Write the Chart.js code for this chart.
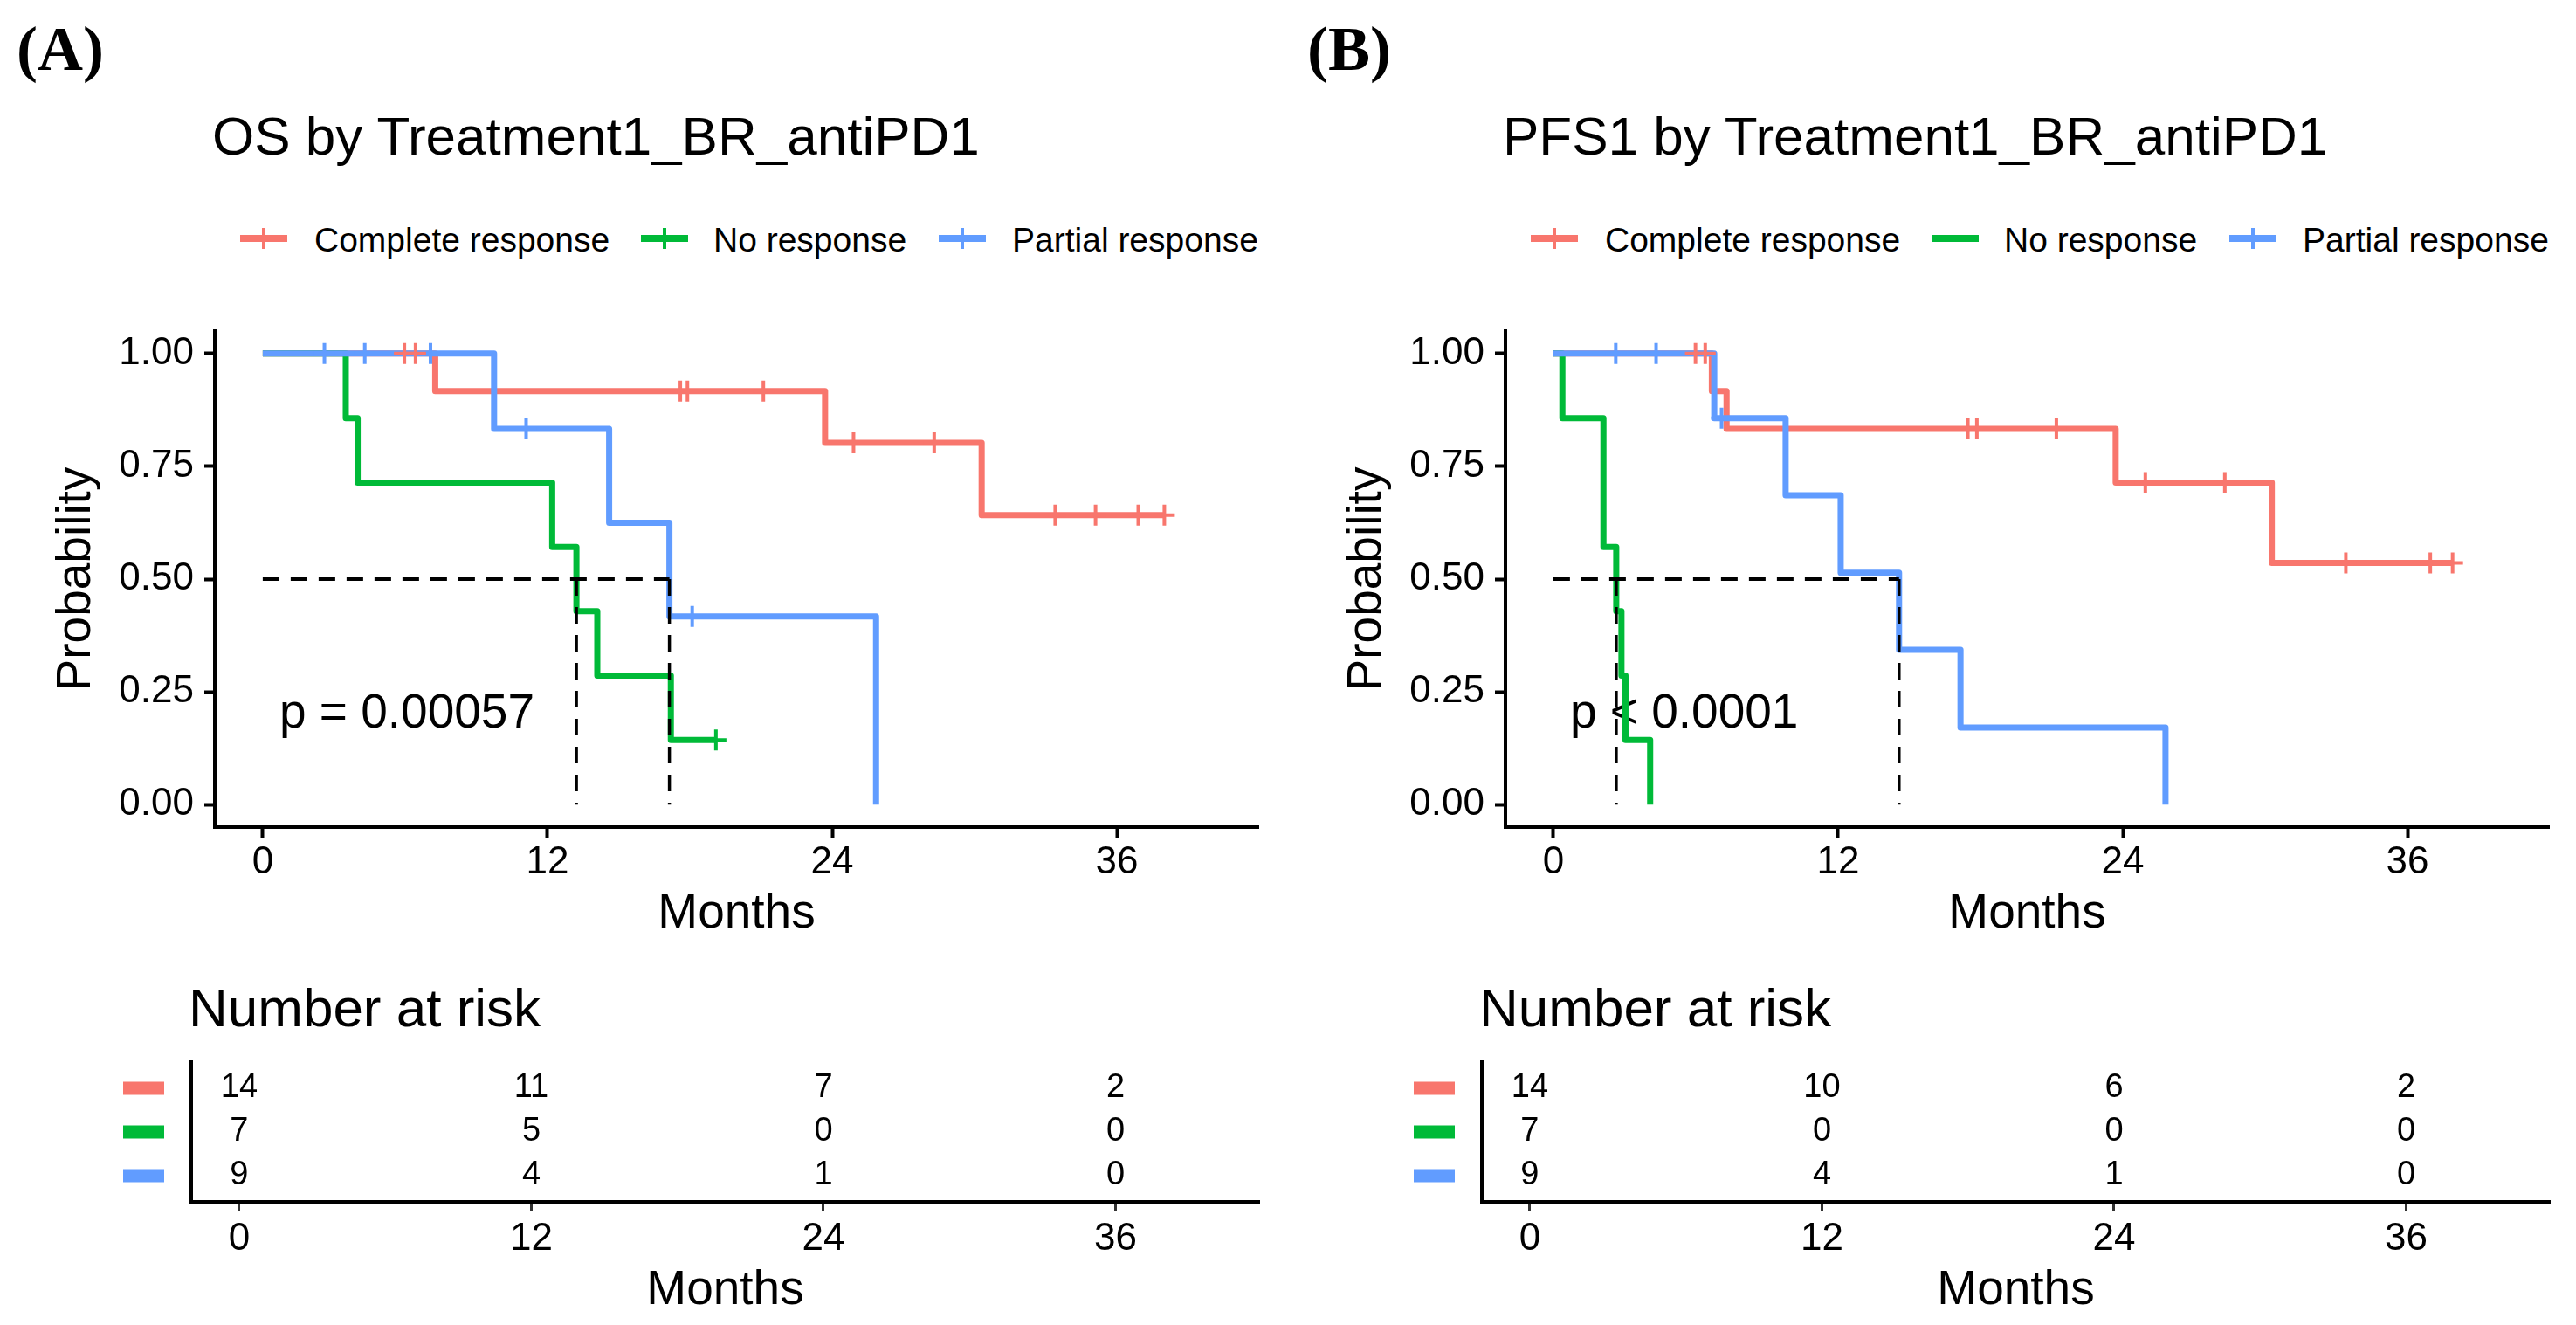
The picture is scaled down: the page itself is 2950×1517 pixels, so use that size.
<!DOCTYPE html>
<html>
<head>
<meta charset="utf-8">
<script src="https://cdn.jsdelivr.net/npm/chart.js@4.4.1/dist/chart.umd.min.js"></script>
<style>
  html, body { margin: 0; padding: 0; background: #fff; }
  body { width: 2950px; height: 1517px; position: relative; overflow: hidden;
         font-family: "Liberation Sans", Arial, sans-serif; color: #000; }
  canvas { position: absolute; }
  .txt { position: absolute; white-space: nowrap; line-height: 1; }
  .panel { font-family: "Liberation Serif", serif; font-weight: bold; font-size: 72px; }
  .title { font-size: 62px; }
  .leg { font-size: 39px; }
  .risk { font-size: 62px; }
  .key { position: absolute; width: 54px; height: 8px; }
  .key i { position: absolute; left: 25px; top: -8px; width: 4px; height: 24px; background: inherit; }
</style>
</head>
<body>
<script>
// groups and colours (ggplot default hues)
const groups = ["Complete response", "No response", "Partial response"];
const colors = ["#F8766D", "#00BA38", "#619CFF"];

// tick values
const monthTicks = [0, 12, 24, 36];
const probTicks = [0, 0.25, 0.5, 0.75, 1];

// OS: step times / survival, censor times
const osCompleteTime = [0, 7.27, 23.7, 30.3, 38.0];
const osCompleteSurv = [1, 0.917, 0.802, 0.642, 0.642];
const osCompleteCens = [5.97, 6.44, 17.6, 17.9, 21.1, 24.9, 28.3, 33.4, 35.1, 36.9, 38.0];
const osNoTime = [0, 3.5, 4.0, 12.2, 13.22, 14.1, 17.2, 19.1];
const osNoSurv = [1, 0.857, 0.714, 0.571, 0.429, 0.286, 0.143, 0.143];
const osNoCens = [19.1];
const osPartialTime = [0, 9.75, 14.6, 17.14, 25.85];
const osPartialSurv = [1, 0.833, 0.625, 0.417, 0];
const osPartialCens = [2.6, 4.3, 7.07, 11.1, 18.1];
const osMedians = [13.22, 17.14];
const osRiskComplete = [14, 11, 7, 2];
const osRiskNo = [7, 5, 0, 0];
const osRiskPartial = [9, 4, 1, 0];

// PFS1
const pfsCompleteTime = [0, 6.68, 7.3, 23.7, 30.28, 37.9];
const pfsCompleteSurv = [1, 0.917, 0.833, 0.714, 0.536, 0.536];
const pfsCompleteCens = [5.99, 6.4, 17.47, 17.85, 21.2, 24.95, 28.3, 33.4, 36.96, 37.9];
const pfsNoTime = [0, 0.38, 2.11, 2.65, 2.87, 3.04, 4.08];
const pfsNoSurv = [1, 0.857, 0.571, 0.429, 0.286, 0.143, 0];
const pfsNoCens = [];
const pfsPartialTime = [0, 6.78, 9.79, 12.11, 14.57, 17.16, 25.8];
const pfsPartialSurv = [1, 0.857, 0.686, 0.514, 0.343, 0.171, 0];
const pfsPartialCens = [2.63, 4.33, 7.09];
const pfsMedians = [2.65, 14.57];
const pfsRiskComplete = [14, 10, 6, 2];
const pfsRiskNo = [7, 0, 0, 0];
const pfsRiskPartial = [9, 4, 1, 0];

const FONT = '"Liberation Sans", Arial, sans-serif';
Chart.defaults.font.family = FONT;
Chart.defaults.color = '#000';

function survAt(times, surv, t) {
  let s = surv[0];
  for (let i = 0; i < times.length; i++) if (times[i] <= t) s = surv[i];
  return s;
}

function addText(str, x, y, cls) {
  const d = document.createElement('div');
  d.className = 'txt ' + cls;
  d.textContent = str;
  d.style.left = x + 'px';
  d.style.top = y + 'px';
  document.body.appendChild(d);
}

function addCanvas(x, y, w, h) {
  const c = document.createElement('canvas');
  c.width = w; c.height = h;
  c.style.left = x + 'px'; c.style.top = y + 'px';
  c.style.width = w + 'px'; c.style.height = h + 'px';
  document.body.appendChild(c);
  return c;
}

// fixed scale box size, no extra label padding
function fixSize(prop, v) {
  return s => {
    s[prop] = v;
    s.paddingTop = 0; s.paddingBottom = 0; s.paddingLeft = 0; s.paddingRight = 0;
  };
}

const pText = {
  id: 'ptext',
  beforeDatasetsDraw(chart, args, opts) {
    const {ctx, scales: {x, y}} = chart;
    ctx.save();
    ctx.font = '55px ' + FONT;
    ctx.fillStyle = '#000';
    ctx.textAlign = 'left';
    ctx.textBaseline = 'middle';
    ctx.fillText(opts.text, x.getPixelForValue(opts.x), y.getPixelForValue(opts.y));
    ctx.restore();
  }
};

const riskText = {
  id: 'risktext',
  afterDraw(chart, args, opts) {
    const {ctx, scales: {x, y}} = chart;
    ctx.save();
    ctx.font = '38px ' + FONT;
    ctx.textAlign = 'center';
    ctx.textBaseline = 'middle';
    opts.rows.forEach((row, r) => {
      const py = y.getPixelForValue(opts.rows.length - r);
      ctx.fillStyle = colors[r];
      ctx.fillRect(141, py - 7.5, 47, 15);
      ctx.fillStyle = '#000';
      row.forEach((n, j) => ctx.fillText(String(n), x.getPixelForValue(monthTicks[j]), py));
    });
    ctx.restore();
  }
};

function tickGrid(len, w, c) {
  return {display: true, drawOnChartArea: false, drawTicks: true, tickLength: len, tickWidth: w, tickColor: c};
}

function buildPanel(dx, p) {
  addText(p.label, dx + 19, 20, 'panel');
  addText(p.title, dx + 243, 125, 'title');
  const keyX = [275, 734, 1075], textX = [360, 817, 1159];
  groups.forEach((g, i) => {
    const k = document.createElement('div');
    k.className = 'key';
    k.style.left = (dx + keyX[i]) + 'px';
    k.style.top = '269px';
    k.style.background = colors[i];
    if (p.series[i].cens.length) k.appendChild(document.createElement('i'));
    document.body.appendChild(k);
    addText(g, dx + textX[i], 255, 'leg');
  });
  addText('Number at risk', dx + 216, 1123, 'risk');

  // survival curves
  const datasets = [];
  p.series.forEach((s, i) => {
    datasets.push({
      data: s.time.map((t, j) => ({x: t, y: s.surv[j]})),
      borderColor: colors[i], borderWidth: 7, stepped: 'before',
      borderJoinStyle: 'round', pointRadius: 0, fill: false, order: 4 - i
    });
  });
  p.series.forEach((s, i) => {
    datasets.push({
      data: s.cens.map(t => ({x: t, y: survAt(s.time, s.surv, t)})),
      showLine: false, pointStyle: 'cross', pointRadius: 12, pointHoverRadius: 12,
      borderColor: colors[i], borderWidth: 4, order: 0
    });
  });
  const medMax = Math.max(...p.medians);
  datasets.push({
    data: [{x: 0, y: 0.5}, {x: medMax, y: 0.5}],
    borderColor: '#000', borderWidth: 4, borderDash: [19, 13], pointRadius: 0, order: 1
  });
  p.medians.forEach(m => datasets.push({
    data: [{x: m, y: 0.5}, {x: m, y: 0}],
    borderColor: '#000', borderWidth: 3.5, borderDash: [19, 13], pointRadius: 0, order: 1
  }));

  new Chart(addCanvas(dx, 360, 1475, 720), {
    type: 'line',
    data: {datasets},
    options: {
      responsive: false, animation: false, devicePixelRatio: 1,
      layout: {padding: {top: 19, right: 34, left: 0, bottom: 0}},
      plugins: {legend: {display: false}, tooltip: {enabled: false},
                ptext: {text: p.pText, x: 0.7, y: 0.2}},
      scales: {
        x: {
          type: 'linear', min: -2.02, max: 41.96,
          afterBuildTicks: s => { s.ticks = monthTicks.map(v => ({value: v})); },
          afterFit: fixSize('height', 133),
          grid: tickGrid(12, 4, '#000'),
          border: {display: true, width: 4, color: '#000'},
          ticks: {font: {size: 44}, color: '#000', padding: 2, maxRotation: 0, autoSkip: false},
          title: {display: true, text: 'Months', font: {size: 55}, color: '#000', padding: {top: 0, bottom: 0}}
        },
        y: {
          type: 'linear', min: -0.05, max: 1.05,
          afterBuildTicks: s => { s.ticks = probTicks.map(v => ({value: v})); },
          afterFit: fixSize('width', 246),
          grid: tickGrid(12, 4, '#000'),
          border: {display: true, width: 4, color: '#000'},
          ticks: {font: {size: 44}, color: '#000', padding: 12, callback: v => v.toFixed(2)},
          title: {display: true, text: 'Probability', font: {size: 55}, color: '#000', padding: {top: 55, bottom: 0}}
        }
      }
    },
    plugins: [pText]
  });

  // number at risk table
  new Chart(addCanvas(dx, 1180, 1475, 337), {
    type: 'line',
    data: {datasets: []},
    options: {
      responsive: false, animation: false, devicePixelRatio: 1,
      layout: {padding: {top: 36, right: 33, left: 0, bottom: 0}},
      plugins: {legend: {display: false}, tooltip: {enabled: false},
                risktext: {rows: p.risk}},
      scales: {
        x: {
          type: 'linear', min: -1.97, max: 41.9,
          afterBuildTicks: s => { s.ticks = monthTicks.map(v => ({value: v})); },
          afterFit: fixSize('height', 141),
          grid: tickGrid(10, 3, '#333'),
          border: {display: true, width: 4, color: '#000'},
          ticks: {font: {size: 44}, color: '#000', padding: 6, maxRotation: 0, autoSkip: false},
          title: {display: true, text: 'Months', font: {size: 55}, color: '#000', padding: {top: 0, bottom: 6}}
        },
        y: {
          type: 'linear', min: 0.4, max: 3.6,
          afterFit: fixSize('width', 219),
          grid: {display: false},
          border: {display: true, width: 4, color: '#000'},
          ticks: {display: false}
        }
      }
    },
    plugins: [riskText]
  });
}

buildPanel(0, {
  label: '(A)', title: 'OS by Treatment1_BR_antiPD1', pText: 'p = 0.00057',
  series: [
    {time: osCompleteTime, surv: osCompleteSurv, cens: osCompleteCens},
    {time: osNoTime, surv: osNoSurv, cens: osNoCens},
    {time: osPartialTime, surv: osPartialSurv, cens: osPartialCens}
  ],
  medians: osMedians,
  risk: [osRiskComplete, osRiskNo, osRiskPartial]
});

buildPanel(1478, {
  label: '(B)', title: 'PFS1 by Treatment1_BR_antiPD1', pText: 'p < 0.0001',
  series: [
    {time: pfsCompleteTime, surv: pfsCompleteSurv, cens: pfsCompleteCens},
    {time: pfsNoTime, surv: pfsNoSurv, cens: pfsNoCens},
    {time: pfsPartialTime, surv: pfsPartialSurv, cens: pfsPartialCens}
  ],
  medians: pfsMedians,
  risk: [pfsRiskComplete, pfsRiskNo, pfsRiskPartial]
});
</script>
</body>
</html>
